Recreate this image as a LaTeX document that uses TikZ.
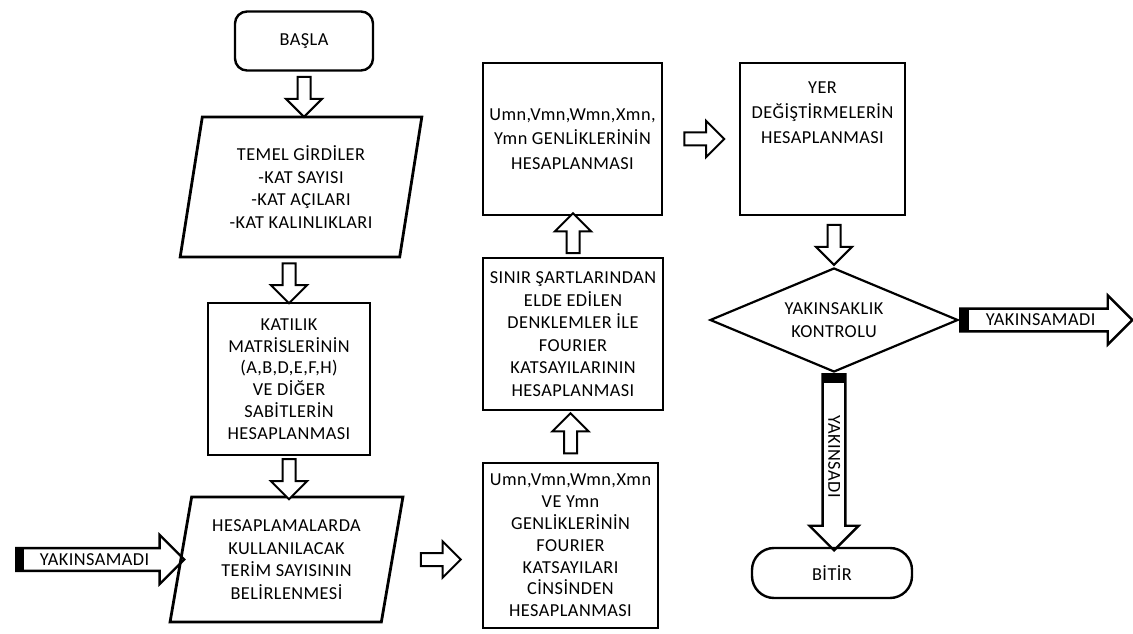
\documentclass[tikz,border=0pt]{standalone}
\usepackage{fontspec}
\setmainfont{Carlito}[LetterSpace=2.5]
\usetikzlibrary{shapes.geometric,shapes.arrows}

\begin{document}
\begin{tikzpicture}[x=0.25mm,y=-0.25mm,
  every node/.style={font=\fontsize{13}{16}\selectfont},
  kutu/.style={draw,line width=0.7mm,align=center,inner sep=0pt},
  paralel/.style={draw,line width=0.7mm,align=center,inner sep=0pt,trapezium,trapezium stretches=true},
  uc/.style={draw,line width=0.6mm,rounded corners=3mm,align=center},
  blokok/.style={single arrow,draw,line width=0.5mm,fill=white,minimum height=10mm,minimum width=0pt,
    inner xsep=0pt,inner ysep=1.375mm,text height=0pt,text depth=0pt,
    single arrow head extend=2.9mm,single arrow tip angle=90,sloped,allow upside down},
  yazilok/.style={single arrow,draw,line width=0.6mm,minimum height=#1,minimum width=0pt,
    inner xsep=0pt,inner ysep=3.25pt,text height=8pt,text depth=0pt,
    single arrow head extend=3.3mm,single arrow tip angle=90,sloped,allow upside down,anchor=tail},
  siyahuc/.style={fill=black,minimum width=2.3mm,minimum height=5.9mm,inner sep=0pt,sloped,allow upside down,anchor=west}]
\useasboundingbox (0,0) rectangle (1133,634);

\node[uc,minimum width=34.5mm,minimum height=14.75mm] (basla) at (304,41) {BAŞLA};
\node[paralel,trapezium left angle=79,trapezium right angle=101,minimum width=60.5mm,minimum height=35mm] (temel) at (301,187)
  {TEMEL GİRDİLER\\-KAT SAYISI\\-KAT AÇILARI\\-KAT KALINLIKLARI};
\node[kutu,minimum width=40.5mm,minimum height=38mm,font=\fontsize{13}{15.5}\selectfont] (katilik) at (289,379)
  {KATILIK\\MATRİSLERİNİN\\(A,B,D,E,F,H)\\VE DİĞER\\SABİTLERİN\\HESAPLANMASI};
\node[paralel,trapezium left angle=78,trapezium right angle=102,minimum width=58.25mm,minimum height=31.25mm] (hesap) at (286.5,559.5)
  {HESAPLAMALARDA\\KULLANILACAK\\TERİM SAYISININ\\BELİRLENMESİ};

\node[kutu,minimum width=43.75mm,minimum height=41.25mm,font=\fontsize{13}{15.5}\selectfont] (cins) at (570.5,545.5)
  {Umn,Vmn,Wmn,Xmn\\VE Ymn\\GENLİKLERİNİN\\FOURIER\\KATSAYILARI\\CİNSİNDEN\\HESAPLANMASI};
\node[kutu,minimum width=45mm,minimum height=38mm] (sinir) at (573,334)
  {SINIR ŞARTLARINDAN\\ELDE EDİLEN\\DENKLEMLER İLE\\FOURIER\\KATSAYILARININ\\HESAPLANMASI};
\node[kutu,minimum width=44.75mm,minimum height=38mm,font=\fontsize{13}{17.5}\selectfont] (genlik) at (572.5,139)
  {Umn,Vmn,Wmn,Xmn,\\Ymn GENLİKLERİNİN\\HESAPLANMASI};
\node[kutu,minimum width=41.25mm,minimum height=38mm,font=\fontsize{13}{17.5}\selectfont] (yer) at (822.5,139)
  {YER\\DEĞİŞTİRMELERİN\\HESAPLANMASI\\[7mm]\mbox{}};

\node[draw,diamond,line width=0.55mm,aspect=2.4,minimum width=62mm,minimum height=26mm,inner sep=0pt,align=center] (kontrol) at (834,320)
  {YAKINSAKLIK\\KONTROLU};
\node[uc,rounded corners=5.5mm,minimum width=40mm,minimum height=12.5mm] (bitir) at (832,573) {BİTİR};

% akis oklari
\path (basla.south) -- (basla.south |- temel.north) node[midway,blokok] {};
\path (temel.south -| katilik.north) -- (katilik.north) node[midway,blokok] {};
\path (katilik.south) -- (katilik.south |- hesap.north) node[midway,blokok] {};
\path (hesap.east) -- (hesap.east -| cins.west) node[midway,blokok] {};
\path (cins.north) -- (cins.north |- sinir.south) node[midway,blokok] {};
\path (sinir.north) -- (sinir.north |- genlik.south) node[midway,blokok] {};
\path (genlik.east) -- (yer.west) node[midway,blokok] {};
\path (yer.south -| kontrol.north) -- (kontrol.north) node[midway,blokok] {};

% yakinsama oklari
\coordinate (giris) at (15,559.5);
\coordinate (cikis) at (1131,320);
\path (giris) -- (hesap.west) node[pos=0,yazilok=42mm] {YAKINSAMADI} node[pos=0,siyahuc] {};
\path (kontrol.east) -- (cikis) node[pos=0,yazilok=43mm] {YAKINSAMADI} node[pos=0,siyahuc] {};
\path (kontrol.south) -- (kontrol.south |- bitir.north) node[pos=0,yazilok=44mm] {YAKINSADI} node[pos=0,siyahuc] {};
\end{tikzpicture}
\end{document}
